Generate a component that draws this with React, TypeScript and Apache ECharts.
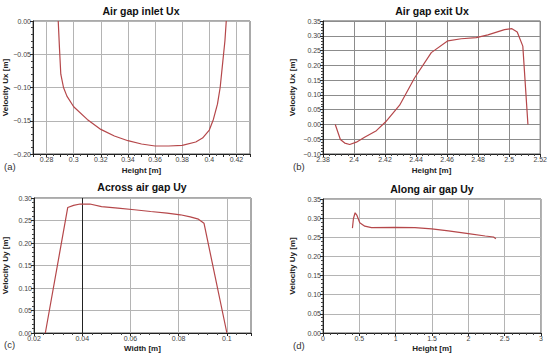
import React, { useEffect, useRef } from "react";
import * as echarts from "echarts";

// Panel (a) Air gap inlet Ux: [height, velocity]
const inletUx: number[][] = [
  [0.2886, 0], [0.2895, -0.04], [0.2905, -0.08], [0.2925, -0.1], [0.295, -0.113],
  [0.3, -0.129], [0.31, -0.148], [0.32, -0.163], [0.33, -0.173], [0.34, -0.18],
  [0.35, -0.185], [0.36, -0.188], [0.37, -0.188], [0.38, -0.187], [0.39, -0.182],
  [0.395, -0.176], [0.4, -0.164], [0.403, -0.148], [0.406, -0.125], [0.408, -0.1],
  [0.41, -0.06], [0.4115, -0.03], [0.4125, 0],
];
// Panel (b) Air gap exit Ux
const exitUx: number[][] = [
  [2.3879, 0], [2.3912, -0.051], [2.394, -0.063], [2.3972, -0.068], [2.4015, -0.06],
  [2.4068, -0.043], [2.4144, -0.021], [2.4204, 0.009], [2.4294, 0.065], [2.439, 0.157],
  [2.4498, 0.243], [2.4605, 0.283], [2.4691, 0.29], [2.4788, 0.294], [2.4863, 0.303],
  [2.497, 0.321], [2.5018, 0.324], [2.5052, 0.313], [2.5088, 0.265], [2.5121, 0],
];
// Panel (c) Across air gap Uy: [width, velocity]
const acrossUy: number[][] = [
  [0.0247, 0], [0.034, 0.279], [0.0364, 0.2836], [0.0391, 0.2866], [0.0432, 0.2866],
  [0.048, 0.281], [0.0548, 0.2776], [0.0616, 0.2739], [0.0684, 0.27], [0.0752, 0.2664],
  [0.0807, 0.2627], [0.0848, 0.258], [0.0882, 0.253], [0.0905, 0.244], [0.1, 0],
];
// Panel (d) Along air gap Uy: [height, velocity]
const alongUy: number[][] = [
  [0.405, 0.274], [0.419, 0.299], [0.442, 0.314], [0.465, 0.308], [0.506, 0.288],
  [0.575, 0.279], [0.667, 0.2753], [0.99, 0.276], [1.265, 0.2753], [1.496, 0.2718],
  [1.726, 0.2665], [2.0, 0.2594], [2.232, 0.2533], [2.347, 0.2507], [2.379, 0.246],
];

const titles = ["Air gap inlet Ux", "Air gap exit Ux", "Across air gap Uy", "Along air gap Uy"];
const panelLabels = ["(a)", "(b)", "(c)", "(d)"];
const xNames = ["Height [m]", "Height [m]", "Width [m]", "Height [m]"];
const yNames = ["Velocity Ux [m]", "Velocity Ux [m]", "Velocity Uy [m]", "Velocity Uy [m]"];

const FONT = "'Liberation Sans', Arial, sans-serif";
const LINE = "#b5474a";

const trim = (v: number) => String(parseFloat(v.toFixed(3)));
const yFmt = (v: number) => v.toFixed(2).replace("-", "\u2212");

export default function App() {
  const ref = useRef<HTMLDivElement>(null);
  useEffect(() => {
    if (!ref.current) return;
    const chart = echarts.init(ref.current, undefined, { renderer: "svg" });

    const grids = [
      { left: 32, top: 21, width: 218, height: 133 },
      { left: 323, top: 21, width: 218, height: 133 },
      { left: 33, top: 198, width: 218, height: 135 },
      { left: 323, top: 199, width: 218, height: 134 },
    ].map((g) => ({ ...g, show: true, borderColor: "#555", borderWidth: 1, backgroundColor: "#fff" }));

    const baseAxis = (i: number) => ({
      gridIndex: i,
      axisLine: { show: true, onZero: false, lineStyle: { color: "#222", width: 1 } },
      axisTick: { show: true, length: 3, lineStyle: { color: "#222" } },
      minorTick: { show: true, splitNumber: 5, length: 2, lineStyle: { color: "#444" } },
      axisLabel: { fontSize: 7, color: "#444", fontFamily: FONT, margin: 2 },
      nameLocation: "middle" as const,
      nameTextStyle: { fontSize: 8, fontWeight: "bold" as const, color: "#222", fontFamily: FONT },
    });

    const gridGray = "#b4b4b4";
    const xAxes = [
      {
        ...baseAxis(0), type: "value", min: 0.27, max: 0.43, interval: 0.01, name: xNames[0], nameGap: 12,
        minorTick: { show: true, splitNumber: 2, length: 2, lineStyle: { color: "#444" } },
        axisLabel: { ...baseAxis(0).axisLabel, formatter: (v: number) => (Math.round(v * 100) % 2 ? "" : trim(v)) },
        splitLine: { show: true, lineStyle: { color: ["rgba(0,0,0,0)", gridGray], width: 1 } },
      },
      {
        ...baseAxis(1), type: "value", min: 2.38, max: 2.52, interval: 0.02, name: xNames[1], nameGap: 12,
        axisLabel: { ...baseAxis(1).axisLabel, formatter: (v: number) => trim(v) },
        splitLine: { show: true, lineStyle: { color: "#8c8c8c", width: 1 } },
      },
      {
        ...baseAxis(2), type: "value", min: 0.02, max: 0.11, interval: 0.02, name: xNames[2], nameGap: 11,
        axisLabel: { ...baseAxis(2).axisLabel, formatter: (v: number) => (v > 0.105 ? "" : trim(v)) },
        splitLine: { show: true, lineStyle: { color: ["rgba(0,0,0,0)", "#222", gridGray, gridGray, gridGray, "rgba(0,0,0,0)"], width: 1 } },
      },
      {
        ...baseAxis(3), type: "value", min: 0, max: 3, interval: 0.5, name: xNames[3], nameGap: 11,
        axisLabel: { ...baseAxis(3).axisLabel, formatter: (v: number) => trim(v) },
        splitLine: { show: true, lineStyle: { color: gridGray, width: 1 } },
      },
    ];

    const yAxes = [
      { min: -0.2, max: 0, gap: 24, color: gridGray },
      { min: -0.1, max: 0.35, gap: 27, color: "#8c8c8c" },
      { min: 0, max: 0.3, gap: 25, color: gridGray },
      { min: 0, max: 0.35, gap: 27, color: gridGray },
    ].map((y, i) => ({
      ...baseAxis(i),
      type: "value",
      min: y.min,
      max: y.max,
      interval: 0.05,
      name: yNames[i],
      nameGap: y.gap,
      nameRotate: 90,
      axisLabel: { ...baseAxis(i).axisLabel, formatter: (v: number) => yFmt(v) },
      splitLine: { show: true, lineStyle: { color: y.color, width: 1 } },
    }));

    const datasets = [inletUx, exitUx, acrossUy, alongUy];
    const series = datasets.map((d, i) => ({
      type: "line",
      xAxisIndex: i,
      yAxisIndex: i,
      data: d,
      symbol: "none",
      smooth: false,
      clip: false,
      lineStyle: { color: LINE, width: 1.2 },
    }));

    const titlePos = [
      [141, 10.5], [432, 11], [142, 187], [432, 189],
    ];
    const labelPos = [
      [4, 166], [293, 166], [4, 344], [293, 345],
    ];
    const graphic: any[] = [];
    titles.forEach((t, i) => {
      graphic.push({
        type: "text", x: titlePos[i][0], y: titlePos[i][1], silent: true,
        style: { text: t, fontSize: 10.5, fontWeight: "bold", fontFamily: FONT, fill: "#111", textAlign: "center", textVerticalAlign: "middle" },
      });
    });
    panelLabels.forEach((t, i) => {
      graphic.push({
        type: "text", x: labelPos[i][0], y: labelPos[i][1], silent: true,
        style: { text: t, fontSize: 9.5, fontFamily: FONT, fill: "#333", textAlign: "left", textVerticalAlign: "middle" },
      });
    });

    chart.setOption({
      animation: false,
      backgroundColor: "#fff",
      grid: grids,
      xAxis: xAxes,
      yAxis: yAxes,
      series,
      graphic,
    } as any);
    return () => chart.dispose();
  }, []);

  return (
    <div
      ref={ref}
      style={{ position: "fixed", left: 0, top: 0, width: 550, height: 355, background: "#fff" }}
    />
  );
}
